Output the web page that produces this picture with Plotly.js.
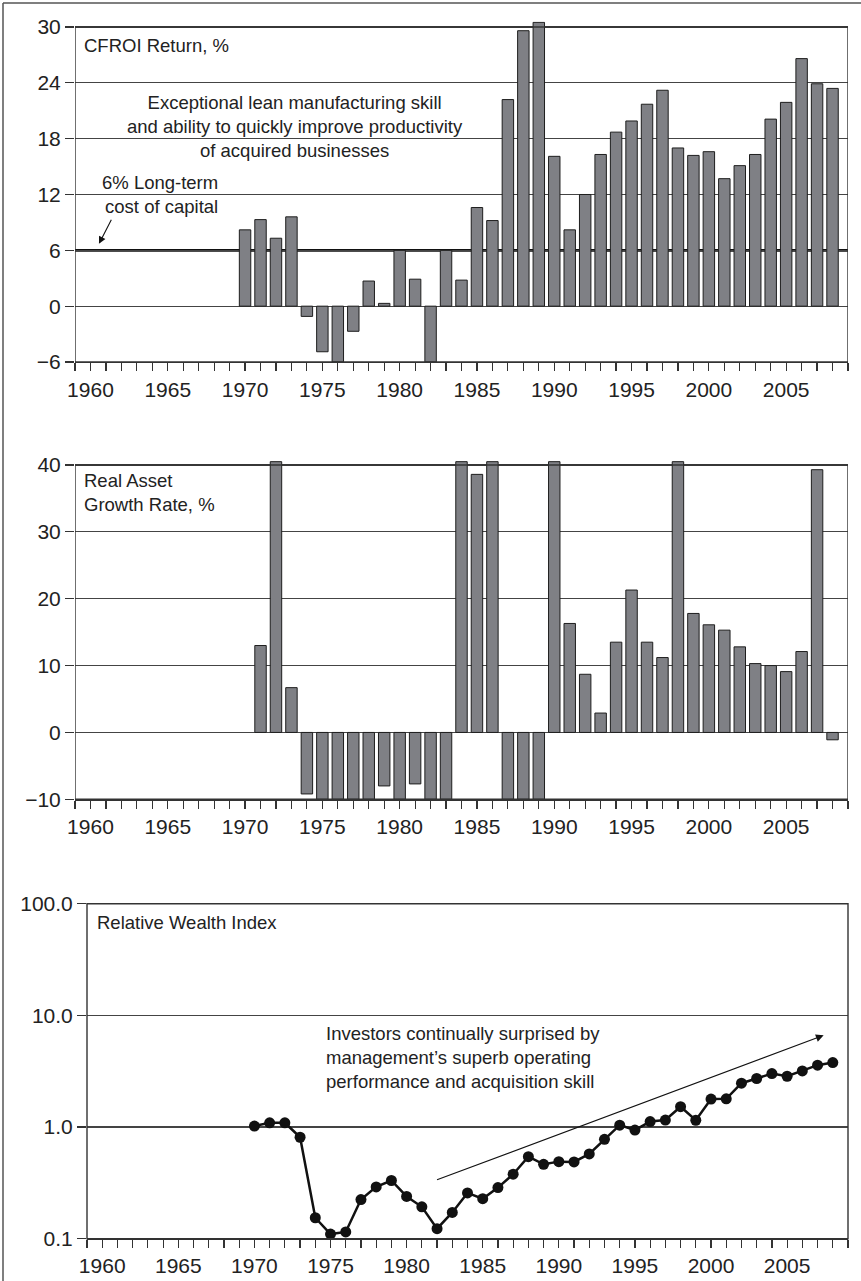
<!DOCTYPE html>
<html>
<head>
<meta charset="utf-8">
<script src="https://cdn.plot.ly/plotly-3.0.1.min.js"></script>
<style>html,body{margin:0;padding:0;background:#fff;}#chart{width:861px;height:1281px;}</style>
</head>
<body>
<div id="chart"></div>
<script>
// ---- Data ----
const cfroiYears = [1970,1971,1972,1973,1974,1975,1976,1977,1978,1979,1980,1981,1982,1983,1984,1985,1986,1987,1988,1989,1990,1991,1992,1993,1994,1995,1996,1997,1998,1999,2000,2001,2002,2003,2004,2005,2006,2007,2008];
const cfroiValues = [8.2,9.3,7.3,9.6,-1.1,-4.9,-6.0,-2.7,2.7,0.3,6.0,2.9,-6.0,6.0,2.8,10.6,9.2,22.2,29.6,30.5,16.1,8.2,12.0,16.3,18.7,19.9,21.7,23.2,17.0,16.2,16.6,13.7,15.1,16.3,20.1,21.9,26.6,23.9,23.4];
const costOfCapital = 6;

const growthYears = [1971,1972,1973,1974,1975,1976,1977,1978,1979,1980,1981,1982,1983,1984,1985,1986,1987,1988,1989,1990,1991,1992,1993,1994,1995,1996,1997,1998,1999,2000,2001,2002,2003,2004,2005,2006,2007,2008];
const growthValues = [13.0,40.5,6.7,-9.2,-10,-10,-10,-10,-8.0,-10,-7.7,-10,-10,40.5,38.6,40.5,-10,-10,-10,40.5,16.3,8.7,2.9,13.5,21.3,13.5,11.2,40.5,17.8,16.1,15.3,12.8,10.3,10.0,9.1,12.1,39.3,-1.1];

const wealthYears = [1970,1971,1972,1973,1974,1975,1976,1977,1978,1979,1980,1981,1982,1983,1984,1985,1986,1987,1988,1989,1990,1991,1992,1993,1994,1995,1996,1997,1998,1999,2000,2001,2002,2003,2004,2005,2006,2007,2008];
const wealthValues = [1.02,1.09,1.09,0.81,0.154,0.110,0.115,0.224,0.291,0.332,0.239,0.193,0.123,0.172,0.257,0.228,0.287,0.378,0.543,0.464,0.490,0.487,0.574,0.776,1.04,0.94,1.12,1.155,1.52,1.15,1.78,1.79,2.47,2.72,3.01,2.85,3.18,3.58,3.78];

const yearTicks = [];
for (let y = 1959; y <= 2009; y++) yearTicks.push(y);
const yearLabels = yearTicks.map(y => (y % 5 === 0 && y < 2009) ? String(y) : '');

const cfroiTicks = [-6,0,6,12,18,24,30];
const growthTicks = [-10,0,10,20,30,40];
const wealthTicks = [0.1,1,10,100];
const wealthTickText = ['0.1','1.0','10.0','100.0'];

// ---- Styles ----
const FONT = 'Liberation Sans, Arial, Helvetica, sans-serif';
const TXT = '#222';
const barFill = '#7f8085';
const barLine = '#1e1e1e';
const gridC = '#444';

const W = 861, H = 1281;
const px = v => v / W;
const py = v => 1 - v / H;

const traces = [
  {type:'bar', x: cfroiYears, y: cfroiValues, xaxis:'x', yaxis:'y', width:0.74,
   marker:{color:barFill, line:{color:barLine, width:1}}, hoverinfo:'x+y'},
  {type:'bar', x: growthYears, y: growthValues, xaxis:'x2', yaxis:'y2', width:0.74,
   marker:{color:barFill, line:{color:barLine, width:1}}, hoverinfo:'x+y'},
  {type:'scatter', mode:'lines+markers', x: wealthYears, y: wealthValues, xaxis:'x3', yaxis:'y3',
   line:{color:'#111', width:2.5}, marker:{color:'#111', size:11}, cliponaxis:false}
];

function xAxis(domain, anchor) {
  return {domain: domain, anchor: anchor, range:[1959,2009], tickmode:'array', tickvals: yearTicks, ticktext: yearLabels,
    ticks:'outside', ticklen:8, tickwidth:1.2, tickcolor:'#333', showline:true, linecolor:'#333', linewidth:1.3,
    showgrid:false, zeroline:false, tickfont:{family:FONT, size:21, color:TXT}, fixedrange:true};
}
function yAxis(domain, anchor, range, tickvals, extra) {
  return Object.assign({domain: domain, anchor: anchor, range: range, tickmode:'array', tickvals: tickvals,
    ticks:'outside', ticklen:9, tickwidth:1.2, tickcolor:'#333', showline:false,
    showgrid:true, gridcolor:gridC, gridwidth:1.1, zeroline:false,
    tickfont:{family:FONT, size:21, color:TXT}, fixedrange:true}, extra || {});
}

const dom12 = [px(75), px(848)];
const dom3 = [px(87), px(848)];

const layout = {
  width: W, height: H,
  margin:{l:0, r:0, t:0, b:0},
  paper_bgcolor:'#fff', plot_bgcolor:'rgba(0,0,0,0)',
  showlegend:false,
  bargap:0,
  xaxis: xAxis(dom12, 'y'),
  yaxis: yAxis([py(362), py(21.4)], 'x', [-6, 30.6], cfroiTicks),
  xaxis2: xAxis(dom12, 'y2'),
  yaxis2: yAxis([py(799.3), py(461)], 'x2', [-10, 40.6], growthTicks),
  xaxis3: xAxis(dom3, 'y3'),
  yaxis3: yAxis([py(1238.7), py(903.7)], 'x3', [-1, 2], wealthTicks, {type:'log', ticktext: wealthTickText}),
  shapes: [
    // figure border (left and top visible)
    {type:'line', xref:'paper', yref:'paper', x0:px(3), x1:px(3), y0:py(3), y1:0, line:{color:'#555', width:1.5}},
    {type:'line', xref:'paper', yref:'paper', x0:px(3), x1:1, y0:py(3), y1:py(3), line:{color:'#555', width:1.5}},
    // 6% cost of capital line (under the bars)
    {type:'line', xref:'x', yref:'y', x0:1959, x1:2009, y0:costOfCapital, y1:costOfCapital, layer:'below', line:{color:'#111', width:2.6}},
    // frames
    {type:'rect', xref:'x', yref:'y', x0:1959, x1:2009, y0:-6, y1:30, layer:'above', line:{color:'#333', width:1.4}},
    {type:'rect', xref:'x2', yref:'y2', x0:1959, x1:2009, y0:-10, y1:40, layer:'above', line:{color:'#333', width:1.4}},
    {type:'rect', xref:'paper', yref:'paper', x0:dom3[0], x1:dom3[1], y0:py(1238.7), y1:py(903.7), layer:'above', line:{color:'#333', width:1.4}}
  ],
  annotations: [
    {xref:'x', yref:'y', x:1959.45, y:28.0, xanchor:'left', yanchor:'middle', showarrow:false,
     text:'CFROI Return, %', font:{family:FONT, size:18.5, color:TXT}},
    {xref:'x', yref:'y', x:1973.2, y:19.3, xanchor:'center', yanchor:'middle', align:'center', showarrow:false,
     text:'Exceptional lean manufacturing skill<br>and ability to quickly improve productivity<br>of acquired businesses', font:{family:FONT, size:18.5, color:TXT}},
    {xref:'x', yref:'y', x:1968.4, y:12.0, xanchor:'right', yanchor:'middle', align:'right', showarrow:false,
     text:'6% Long-term<br>cost of capital', font:{family:FONT, size:18.5, color:TXT}},
    {xref:'x', yref:'y', x:1960.55, y:6.7, axref:'x', ayref:'y', ax:1961.4, ay:9.45, text:'', showarrow:true,
     arrowhead:2, arrowsize:1.3, arrowwidth:1.1, arrowcolor:'#111'},
    {xref:'x2', yref:'y2', x:1959.45, y:35.85, xanchor:'left', yanchor:'middle', align:'left', showarrow:false,
     text:'Real Asset<br>Growth Rate, %', font:{family:FONT, size:18.5, color:TXT}},
    {xref:'x3', yref:'y3', x:1959.55, y:1.833, xanchor:'left', yanchor:'middle', showarrow:false,
     text:'Relative Wealth Index', font:{family:FONT, size:18.5, color:TXT}},
    {xref:'x3', yref:'y3', x:1974.6, y:0.624, xanchor:'left', yanchor:'middle', align:'left', showarrow:false,
     text:'Investors continually surprised by<br>management\u2019s superb operating<br>performance and acquisition skill', font:{family:FONT, size:18.5, color:TXT}},
    {xref:'x3', yref:'y3', x:2007.4, y:Math.log10(6.62), axref:'x3', ayref:'y3', ax:1981.9, ay:Math.log10(0.333), text:'', showarrow:true,
     arrowhead:2, arrowsize:1.4, arrowwidth:1.1, arrowcolor:'#111'}
  ]
};

Plotly.newPlot('chart', traces, layout, {staticPlot:true, displayModeBar:false});
</script>
</body>
</html>
